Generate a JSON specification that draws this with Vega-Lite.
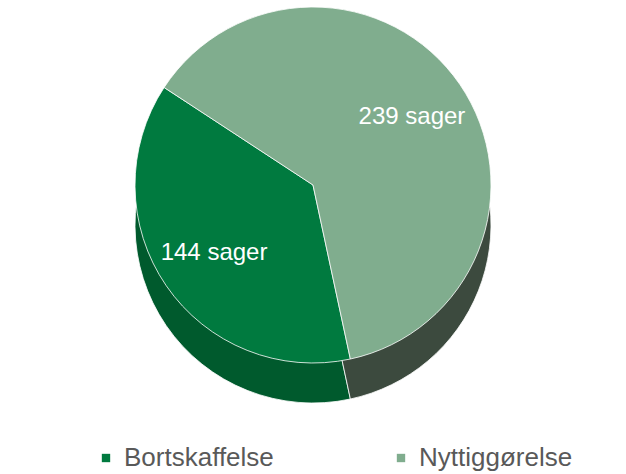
{
  "$schema": "https://vega.github.io/schema/vega-lite/v6.json",
  "width": 626,
  "height": 370,
  "padding": 0,
  "background": "white",
  "config": {"view": {"stroke": null}, "font": "Liberation Sans"},
  "data": {"values": [
    {"kategori": "Bortskaffelse", "sager": 144, "orden": 1, "label": "144 sager"},
    {"kategori": "Nyttiggørelse", "sager": 239, "orden": 2, "label": "239 sager"}
  ]},
  "encoding": {
    "theta": {"field": "sager", "type": "quantitative", "stack": true, "sort": "ascending", "scale": {"range": [2.93, 9.2132]}},
    "order": {"field": "orden", "type": "quantitative"}
  },
  "resolve": {"scale": {"fill": "independent"}, "legend": {"fill": "independent"}},
  "layer": [
    {
      "mark": {"type": "arc", "radius": 178, "yOffset": 40, "stroke": "#ffffff", "strokeWidth": 0.8},
      "encoding": {
        "fill": {"field": "kategori", "type": "nominal", "legend": null,
          "scale": {"domain": ["Bortskaffelse", "Nyttiggørelse"], "range": ["#005A2D", "#3C4A3E"]}}
      }
    },
    {
      "mark": {"type": "arc", "radius": 178, "stroke": "#ffffff", "strokeWidth": 0.8},
      "encoding": {
        "fill": {"field": "kategori", "type": "nominal",
          "scale": {"domain": ["Bortskaffelse", "Nyttiggørelse"], "range": ["#007A3F", "#80AD8E"]},
          "legend": {"title": null, "orient": "none", "legendX": 93, "legendY": 445, "direction": "horizontal", "columns": 2, "columnPadding": 114,
            "symbolType": "square", "symbolSize": 70, "symbolStrokeWidth": 0, "labelFontSize": 26, "labelColor": "#595959",
            "labelFont": "Liberation Sans", "labelOffset": 5}}
      }
    },
    {
      "mark": {"type": "text", "radius": 120, "fill": "#ffffff", "fontSize": 24, "font": "Liberation Sans"},
      "encoding": {"text": {"field": "label", "type": "nominal"}}
    }
  ]
}
